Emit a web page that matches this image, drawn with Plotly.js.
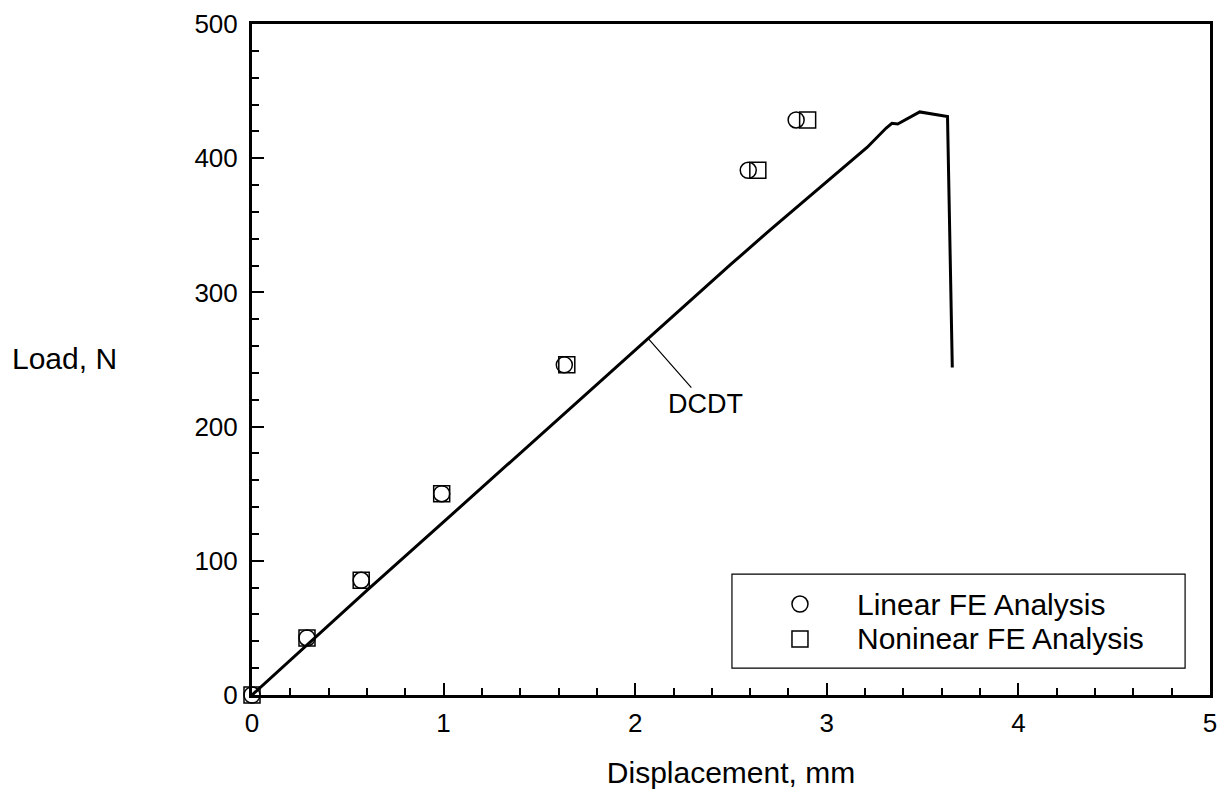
<!DOCTYPE html>
<html>
<head>
<meta charset="utf-8">
<script src="https://cdn.plot.ly/plotly-3.0.1.min.js"></script>
<style>html,body{margin:0;padding:0;background:#fff;}#chart{width:1231px;height:799px;}</style>
</head>
<body>
<div id="chart"></div>
<script>
// DCDT measured load-displacement curve
const dcdtX = [0, 0.3, 0.6, 1.0, 1.5, 2.066, 2.3, 2.5, 2.7, 2.9, 3.1, 3.21, 3.31, 3.34, 3.37, 3.485, 3.63, 3.655];
const dcdtY = [0, 39, 78, 129, 193, 266, 296, 321, 346, 370.5, 395, 408, 422.5, 426, 425.5, 434.5, 431, 244];
// Linear FE analysis
const linearX = [0, 0.287, 0.57, 0.99, 1.63, 2.59, 2.84];
const linearY = [0, 42.5, 85.5, 150, 246, 391, 428.5];
// Nonlinear FE analysis
const nonlinearX = [0, 0.287, 0.57, 0.99, 1.643, 2.64, 2.90];
const nonlinearY = [0, 42.5, 85.5, 150, 246, 391, 428.5];
const legendLabels = ["Linear FE Analysis", "Noninear FE Analysis"];
const curveLabel = "DCDT";
const xTitle = "Displacement, mm";
const yTitle = "Load, N";

const FONT = "Liberation Sans, Arial, Helvetica, sans-serif";

const traces = [
  {x: dcdtX, y: dcdtY, mode: 'lines', type: 'scatter', name: curveLabel,
   line: {color: '#000', width: 3}, showlegend: false, cliponaxis: false},
  {x: linearX, y: linearY, mode: 'markers', type: 'scatter', name: legendLabels[0],
   marker: {symbol: 'circle-open', size: 16, color: '#000', line: {width: 1.5, color: '#000'}},
   showlegend: false, cliponaxis: false},
  {x: nonlinearX, y: nonlinearY, mode: 'markers', type: 'scatter', name: legendLabels[1],
   marker: {symbol: 'square-open', size: 16, color: '#000', line: {width: 1.5, color: '#000'}},
   showlegend: false, cliponaxis: false}
];

// legend box position (paper)
const lgX = 0.572, lgY1 = 0.1356, lgY2 = 0.0835, lgTextX = 0.6295;

const layout = {
  width: 1231, height: 799,
  margin: {l: 252, r: 21, t: 24, b: 104},
  paper_bgcolor: '#fff', plot_bgcolor: '#fff',
  font: {family: FONT, color: '#000', size: 26},
  showlegend: false,
  xaxis: {
    range: [0, 5], dtick: 1, tick0: 0, showgrid: false, zeroline: false,
    showline: true, linecolor: '#000', linewidth: 3, mirror: true,
    ticks: 'inside', ticklen: 12, tickwidth: 2, tickcolor: '#000',
    minor: {dtick: 0.2, ticks: 'inside', ticklen: 7, tickwidth: 2, tickcolor: '#000', showgrid: false},
    tickfont: {family: FONT, size: 26, color: '#000'},
    ticklabelstandoff: 3,
    title: {text: xTitle, font: {family: FONT, size: 30, color: '#000'}, standoff: 25}
  },
  yaxis: {
    range: [0, 500], dtick: 100, tick0: 0, showgrid: false, zeroline: false,
    showline: true, linecolor: '#000', linewidth: 3, mirror: true,
    ticks: 'inside', ticklen: 12, tickwidth: 2, tickcolor: '#000',
    minor: {dtick: 20, ticks: 'inside', ticklen: 7, tickwidth: 2, tickcolor: '#000', showgrid: false},
    tickfont: {family: FONT, size: 26, color: '#000'},
    ticklabelstandoff: 6
  },
  shapes: [
    {type: 'rect', xref: 'paper', yref: 'paper', x0: 0.501, x1: 0.974, y0: 0.040, y1: 0.180,
     line: {color: '#000', width: 1.2}, fillcolor: 'rgba(0,0,0,0)'},
    {type: 'circle', xref: 'paper', yref: 'paper', xsizemode: 'pixel', ysizemode: 'pixel',
     xanchor: lgX, yanchor: lgY1, x0: -8, x1: 8, y0: -8, y1: 8, line: {color: '#000', width: 1.5}},
    {type: 'rect', xref: 'paper', yref: 'paper', xsizemode: 'pixel', ysizemode: 'pixel',
     xanchor: lgX, yanchor: lgY2, x0: -8, x1: 8, y0: -8, y1: 8, line: {color: '#000', width: 1.5}}
  ],
  annotations: [
    {xref: 'paper', yref: 'paper', x: -0.196, y: 0.502, text: yTitle, showarrow: false,
     xanchor: 'center', yanchor: 'middle', font: {family: FONT, size: 30, color: '#000'}},
    {xref: 'paper', yref: 'paper', x: lgTextX, y: lgY1, text: legendLabels[0], showarrow: false,
     xanchor: 'left', yanchor: 'middle', font: {family: FONT, size: 30, color: '#000'}},
    {xref: 'paper', yref: 'paper', x: lgTextX, y: lgY2, text: legendLabels[1], showarrow: false,
     xanchor: 'left', yanchor: 'middle', font: {family: FONT, size: 30, color: '#000'}},
    {xref: 'x', yref: 'y', x: dcdtX[5], y: dcdtY[5], text: curveLabel, showarrow: true,
     arrowhead: 0, arrowwidth: 1.2, arrowcolor: '#000', ax: 58, ay: 66,
     font: {family: FONT, size: 27, color: '#000'}}
  ]
};

Plotly.newPlot('chart', traces, layout, {displayModeBar: false, staticPlot: true});
</script>
</body>
</html>
